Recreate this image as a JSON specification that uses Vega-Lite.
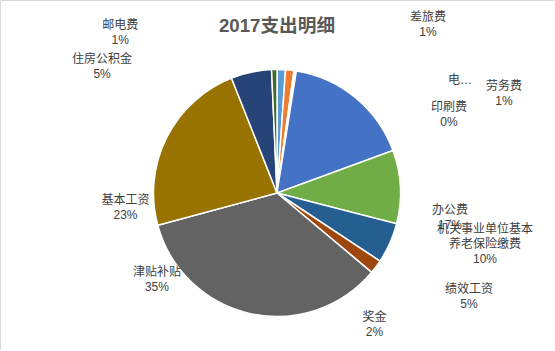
{
  "$schema": "https://vega.github.io/schema/vega-lite/v6.json",
  "width": 554,
  "height": 350,
  "autosize": {"type": "none"},
  "padding": 0,
  "background": "#FFFFFF",
  "view": {"stroke": "#D9D9D9", "strokeWidth": 1},
  "title": {
    "text": "2017支出明细",
    "font": "Liberation Sans, Noto Sans CJK SC",
    "fontSize": 18.67,
    "fontWeight": "bold",
    "color": "#595959",
    "anchor": "middle",
    "frame": "group",
    "baseline": "alphabetic",
    "offset": -28,
    "dy": 23
  },
  "data": {
    "values": [
      {"order": 1, "item": "劳务费", "value": 1.1, "label": "劳务费\n1%"},
      {"order": 2, "item": "差旅费", "value": 1.1, "label": "差旅费\n1%"},
      {"order": 3, "item": "电…", "value": 0.15, "label": "电…"},
      {"order": 4, "item": "印刷费", "value": 0.15, "label": "印刷费\n0%"},
      {"order": 5, "item": "办公费", "value": 16.9, "label": "办公费\n17%"},
      {"order": 6, "item": "机关事业单位基本养老保险缴费", "value": 9.6, "label": "机关事业单位基本\n养老保险缴费\n10%"},
      {"order": 7, "item": "绩效工资", "value": 5.3, "label": "绩效工资\n5%"},
      {"order": 8, "item": "奖金", "value": 1.8, "label": "奖金\n2%"},
      {"order": 9, "item": "津贴补贴", "value": 34.7, "label": "津贴补贴\n35%"},
      {"order": 10, "item": "基本工资", "value": 23.2, "label": "基本工资\n23%"},
      {"order": 11, "item": "住房公积金", "value": 5.3, "label": "住房公积金\n5%"},
      {"order": 12, "item": "邮电费", "value": 0.7, "label": "邮电费\n1%"}
    ]
  },
  "transform": [
    {"stack": "value", "groupby": [], "sort": [{"field": "order", "order": "ascending"}], "as": ["v0", "v1"]},
    {"calculate": "(datum.v0 + datum.v1) / 2", "as": "mid"}
  ],
  "encoding": {
    "theta": {"field": "mid", "type": "quantitative", "scale": {"domain": [0, 100], "range": [0, 6.283185307179586]}}
  },
  "layer": [
    {
      "mark": {"type": "arc", "outerRadius": 123.5, "stroke": "#FFFFFF", "strokeWidth": 1.5, "yOffset": 18},
      "encoding": {
        "theta": {"field": "v0", "type": "quantitative", "scale": {"domain": [0, 100], "range": [0, 6.283185307179586]}},
        "theta2": {"field": "v1"},
        "color": {
          "field": "item",
          "type": "nominal",
          "legend": null,
          "scale": {
            "domain": ["劳务费", "差旅费", "电…", "印刷费", "办公费", "机关事业单位基本养老保险缴费", "绩效工资", "奖金", "津贴补贴", "基本工资", "住房公积金", "邮电费"],
            "range": ["#5B9BD5", "#ED7D31", "#A5A5A5", "#FFC000", "#4472C4", "#70AD47", "#255E91", "#9E480E", "#636363", "#997300", "#264478", "#43682B"]
          }
        }
      }
    },
    {"transform": [{"filter": "datum.order == 1"}], "mark": {"type": "text", "radius": 135, "dx": 222.3, "dy": 45.9, "lineBreak": "\n", "lineHeight": 15, "fontSize": 12, "font": "Liberation Sans, Noto Sans CJK SC", "fill": "#404040", "align": "center", "baseline": "middle"}, "encoding": {"text": {"field": "label"}}},
    {"transform": [{"filter": "datum.order == 2"}], "mark": {"type": "text", "radius": 135, "dx": 137, "dy": -23.7, "lineBreak": "\n", "lineHeight": 15, "fontSize": 12, "font": "Liberation Sans, Noto Sans CJK SC", "fill": "#404040", "align": "center", "baseline": "middle"}, "encoding": {"text": {"field": "label"}}},
    {"transform": [{"filter": "datum.order == 3"}], "mark": {"type": "text", "radius": 135, "dx": 163.8, "dy": 38.6, "lineBreak": "\n", "lineHeight": 15, "fontSize": 12, "font": "Liberation Sans, Noto Sans CJK SC", "fill": "#404040", "align": "center", "baseline": "middle"}, "encoding": {"text": {"field": "label"}}},
    {"transform": [{"filter": "datum.order == 4"}], "mark": {"type": "text", "radius": 135, "dx": 151.5, "dy": 65.4, "lineBreak": "\n", "lineHeight": 15, "fontSize": 12, "font": "Liberation Sans, Noto Sans CJK SC", "fill": "#404040", "align": "center", "baseline": "middle"}, "encoding": {"text": {"field": "label"}}},
    {"transform": [{"filter": "datum.order == 5"}], "mark": {"type": "text", "radius": 135, "dx": 87.3, "dy": 138.8, "lineBreak": "\n", "lineHeight": 15, "fontSize": 12, "font": "Liberation Sans, Noto Sans CJK SC", "fill": "#404040", "align": "center", "baseline": "middle"}, "encoding": {"text": {"field": "label"}}},
    {"transform": [{"filter": "datum.order == 6"}], "mark": {"type": "text", "radius": 135, "dx": 73.2, "dy": 60.3, "lineBreak": "\n", "lineHeight": 15, "fontSize": 12, "font": "Liberation Sans, Noto Sans CJK SC", "fill": "#404040", "align": "center", "baseline": "middle"}, "encoding": {"text": {"field": "label"}}},
    {"transform": [{"filter": "datum.order == 7"}], "mark": {"type": "text", "radius": 135, "dx": 68.6, "dy": 58.8, "lineBreak": "\n", "lineHeight": 15, "fontSize": 12, "font": "Liberation Sans, Noto Sans CJK SC", "fill": "#404040", "align": "center", "baseline": "middle"}, "encoding": {"text": {"field": "label"}}},
    {"transform": [{"filter": "datum.order == 8"}], "mark": {"type": "text", "radius": 135, "dx": -10.7, "dy": 61.3, "lineBreak": "\n", "lineHeight": 15, "fontSize": 12, "font": "Liberation Sans, Noto Sans CJK SC", "fill": "#404040", "align": "center", "baseline": "middle"}, "encoding": {"text": {"field": "label"}}},
    {"transform": [{"filter": "datum.order == 9"}], "mark": {"type": "text", "radius": 135, "dx": -91, "dy": -34.9, "lineBreak": "\n", "lineHeight": 15, "fontSize": 12, "font": "Liberation Sans, Noto Sans CJK SC", "fill": "#404040", "align": "center", "baseline": "middle"}, "encoding": {"text": {"field": "label"}}},
    {"transform": [{"filter": "datum.order == 10"}], "mark": {"type": "text", "radius": 135, "dx": -30.8, "dy": 86, "lineBreak": "\n", "lineHeight": 15, "fontSize": 12, "font": "Liberation Sans, Noto Sans CJK SC", "fill": "#404040", "align": "center", "baseline": "middle"}, "encoding": {"text": {"field": "label"}}},
    {"transform": [{"filter": "datum.order == 11"}], "mark": {"type": "text", "radius": 135, "dx": -146.7, "dy": 16, "lineBreak": "\n", "lineHeight": 15, "fontSize": 12, "font": "Liberation Sans, Noto Sans CJK SC", "fill": "#404040", "align": "center", "baseline": "middle"}, "encoding": {"text": {"field": "label"}}},
    {"transform": [{"filter": "datum.order == 12"}], "mark": {"type": "text", "radius": 135, "dx": -153.9, "dy": -15, "lineBreak": "\n", "lineHeight": 15, "fontSize": 12, "font": "Liberation Sans, Noto Sans CJK SC", "fill": "#404040", "align": "center", "baseline": "middle"}, "encoding": {"text": {"field": "label"}}}
  ]
}
